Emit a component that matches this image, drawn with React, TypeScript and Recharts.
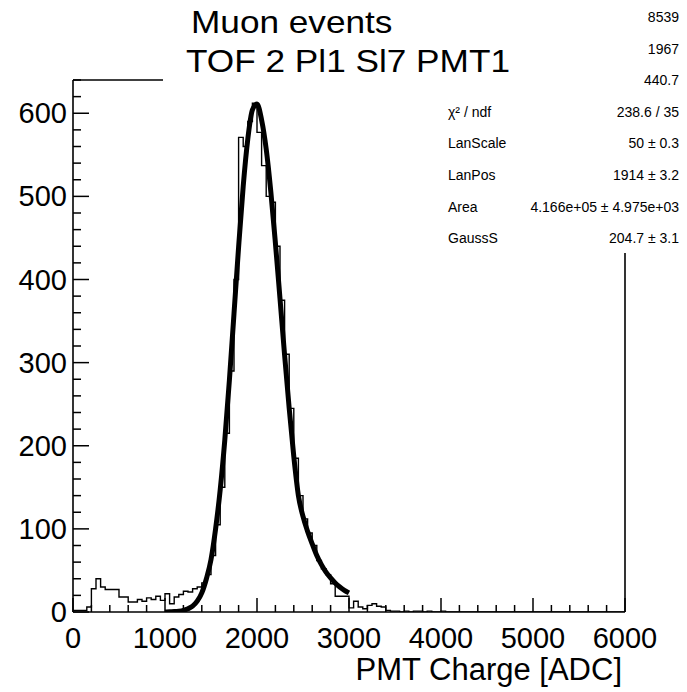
import React from 'react';
import { ComposedChart, Line, XAxis, YAxis } from 'recharts';

const BIN_WIDTH = 50;
// Histogram counts, 120 bins of 50 ADC from 0 to 6000
const histCounts = [
  2, 2, 2, 6, 28, 40, 30, 27, 27, 27,
  18, 18, 12, 12, 15, 13, 17, 15, 19, 14,
  22, 10, 18, 21, 25, 24, 28, 30, 35, 45,
  68, 105, 150, 215, 290, 400, 571, 560, 590, 612,
  577, 537, 500, 493, 440, 375, 310, 245, 185, 140,
  112, 95, 80, 62, 52, 45, 34, 19, 19, 19,
  5, 13, 6, 4, 8, 10, 7, 6, 2, 1,
  1, 0, 1, 0, 1, 1, 0, 1, 0, 0,
  1, 0, 0, 0, 0, 0, 0, 0, 0, 0,
  0, 0, 0, 0, 0, 0, 0, 0, 0, 0,
  0, 0, 0, 0, 0, 0, 0, 0, 0, 0,
  0, 0, 0, 0, 0, 0, 0, 0, 0, 0,
];

// Fit curve (Landau x Gauss), sampled
const fitX = [
  1000, 1050, 1100, 1150, 1200, 1250, 1300, 1350, 1400, 1450,
  1500, 1550, 1600, 1650, 1700, 1750, 1800, 1850, 1900, 1950,
  2000, 2050, 2100, 2150, 2200, 2250, 2300, 2350, 2400, 2450,
  2500, 2550, 2600, 2650, 2700, 2750, 2800, 2850, 2900, 2950, 3000,
];
const fitY = [
  0, 0.3, 0.5, 1, 2, 4, 7, 13, 23, 40,
  63, 100, 147, 207, 279, 359, 439, 512, 569, 604,
  611, 592, 557, 506, 444, 377, 309, 245, 187, 140,
  115, 97, 82, 68, 57, 48, 41, 35, 30, 26, 23,
];

const xMajorLabels = [0, 1000, 2000, 3000, 4000, 5000, 6000];
const yMajorLabels = [0, 100, 200, 300, 400, 500, 600];
const titleLines = ['Muon events', 'TOF 2 Pl1 Sl7 PMT1'];
const xAxisTitle = 'PMT Charge [ADC]';
const statLabels = ['', '', '', 'χ² / ndf', 'LanScale', 'LanPos', 'Area', 'GaussS'];
const statValues = ['8539', '1967', '440.7', '238.6 / 35', '50 ± 0.3', '1914 ± 3.2', '4.166e+05 ± 4.975e+03', '204.7 ± 3.1'];

const X_MAX = 6000;
const Y_MAX = 640;

const histData = histCounts
  .map((c, i) => ({ x: i * BIN_WIDTH, count: c }))
  .concat([{ x: histCounts.length * BIN_WIDTH, count: histCounts[histCounts.length - 1] }]);
const fitData = fitX.map((x, i) => ({ x, fit: fitY[i] }));

const xTicks: number[] = [];
for (let v = 0; v <= X_MAX; v += 200) xTicks.push(v);
const yTicks: number[] = [];
for (let v = 0; v <= Y_MAX; v += 20) yTicks.push(v);

const FONT = '"Liberation Sans", Arial, Helvetica, sans-serif';

const XTick = (props: any) => {
  const { x, y, payload } = props;
  const v = payload.value;
  const major = xMajorLabels.includes(v);
  return (
    <g>
      <line x1={x} x2={x} y1={y} y2={y - (major ? 14 : 7)} stroke="#000" strokeWidth={1.5} />
      {major && (
        <text x={x} y={y + 36} textAnchor="middle" fontSize={29} fontFamily={FONT} fill="#000">
          {v}
        </text>
      )}
    </g>
  );
};

const YTick = (props: any) => {
  const { x, y, payload } = props;
  const v = payload.value;
  const major = yMajorLabels.includes(v);
  return (
    <g>
      <line x1={x} x2={x + (major ? 16 : 8)} y1={y} y2={y} stroke="#000" strokeWidth={1.5} />
      {major && (
        <text x={x - 6} y={y + 10} textAnchor="end" fontSize={29} fontFamily={FONT} fill="#000">
          {v}
        </text>
      )}
    </g>
  );
};

export default function App() {
  return (
    <div style={{ position: 'absolute', left: 0, top: 0, width: 687, height: 692, background: '#fff' }}>
      <ComposedChart width={687} height={692} margin={{ top: 80, right: 62, bottom: 0, left: 0 }}>
        <XAxis
          dataKey="x"
          type="number"
          domain={[0, X_MAX]}
          ticks={xTicks}
          interval={0}
          tickSize={0}
          tickMargin={0}
          tickLine={false}
          tick={<XTick />}
          axisLine={{ stroke: '#000', strokeWidth: 1.6 }}
          height={80}
          allowDataOverflow
        />
        <YAxis
          type="number"
          domain={[0, Y_MAX]}
          ticks={yTicks}
          interval={0}
          tickSize={0}
          tickMargin={0}
          tickLine={false}
          tick={<YTick />}
          axisLine={{ stroke: '#000', strokeWidth: 1.6 }}
          width={73}
          allowDataOverflow
        />
        <Line
          data={histData}
          dataKey="count"
          type="stepAfter"
          stroke="#000"
          strokeWidth={1.4}
          dot={false}
          isAnimationActive={false}
        />
        <Line
          data={fitData}
          dataKey="fit"
          type="monotone"
          stroke="#000"
          strokeWidth={5}
          dot={false}
          isAnimationActive={false}
        />
      </ComposedChart>
      <svg
        width={687}
        height={692}
        style={{ position: 'absolute', left: 0, top: 0, pointerEvents: 'none' }}
        fontFamily={FONT}
      >
        <line x1={73} x2={163} y1={80} y2={80} stroke="#000" strokeWidth={1.6} />
        <line x1={625} x2={625} y1={253} y2={612} stroke="#000" strokeWidth={1.6} />
        <g transform="translate(191,33) scale(1.1,1)">
          <text x={0} y={0} fontSize={32} fill="#000">{titleLines[0]}</text>
        </g>
        <g transform="translate(186,72) scale(1.1,1)">
          <text x={0} y={0} fontSize={32} fill="#000">{titleLines[1]}</text>
        </g>
        {statValues.map((val, i) => (
          <g key={i}>
            {statLabels[i] && (
              <text x={448} y={17 + 31.6 * i + 5} fontSize={14} fill="#000">{statLabels[i]}</text>
            )}
            <text x={679} y={17 + 31.6 * i + 5} fontSize={14} textAnchor="end" fill="#000">{val}</text>
          </g>
        ))}
        <text x={622} y={680} fontSize={31} textAnchor="end" fill="#000">{xAxisTitle}</text>
      </svg>
    </div>
  );
}
